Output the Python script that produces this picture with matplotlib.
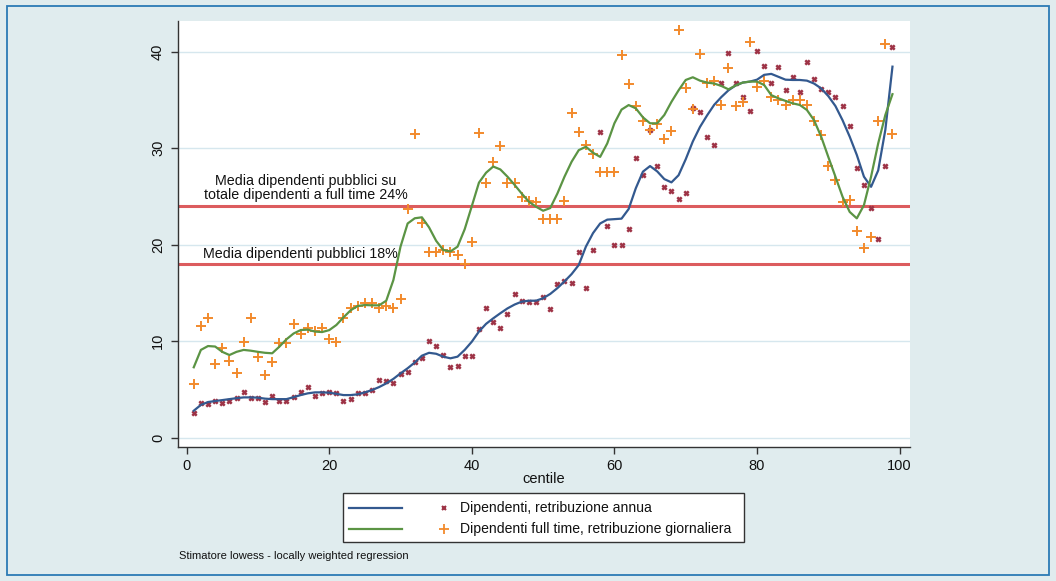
import numpy as np
import matplotlib
matplotlib.use("Agg")
import matplotlib.pyplot as plt
from matplotlib.lines import Line2D
from matplotlib.patches import Rectangle

plt.rcParams['font.family'] = ['Liberation Sans', 'DejaVu Sans']

centile = np.arange(1, 100)

annua_pts = [2.6, 3.56, 3.5, 3.8, 3.65, 3.84, 4.1, 4.7, 4.1, 4.07,
             3.73, 4.32, 3.82, 3.8, 4.25, 4.7, 5.28, 4.35, 4.67, 4.74,
             4.6, 3.84, 4.0, 4.6, 4.6, 4.98, 5.95, 5.88, 5.63, 6.6,
             6.81, 7.88, 8.26, 10.05, 9.53, 8.6, 7.29, 7.46, 8.47, 8.47,
             11.26, 13.47, 11.96, 11.33, 12.82, 14.9, 14.15, 14.1, 14.1, 14.55,
             13.34, 15.92, 16.22, 16.03, 19.2, 15.56, 19.5, 31.7, 21.92, 19.97,
             20.02, 21.58, 29.0, 27.2, 31.88, 28.2, 26.0, 25.56, 24.77, 25.36,
             34.2, 33.8, 31.2, 30.3, 36.8, 39.9, 36.8, 35.3, 33.9, 40.1,
             38.5, 36.8, 38.4, 36.0, 37.4, 35.8, 38.9, 37.2, 36.1, 35.8,
             35.3, 34.4, 32.3, 28.0, 26.2, 23.8, 20.6, 28.2, 40.5]

giorn_pts = [5.56, 11.55, 12.4, 7.64, 9.28, 7.9, 6.74, 9.9, 12.44, 8.37,
             6.5, 7.82, 9.8, 9.8, 11.76, 10.7, 11.42, 11.03, 11.4, 10.2,
             9.88, 12.37, 13.4, 13.7, 14.0, 14.0, 13.47, 13.68, 13.47, 14.4,
             23.67, 31.5, 22.28, 19.25, 19.22, 19.45, 19.25, 18.9, 18.03, 20.25,
             31.54, 26.4, 28.55, 30.25, 26.4, 26.38, 24.97, 24.5, 24.45, 22.68,
             22.68, 22.66, 24.56, 33.6, 31.7, 30.3, 29.37, 27.57, 27.57, 27.57,
             39.66, 36.7, 34.37, 32.85, 31.85, 32.5, 30.97, 31.8, 42.25, 36.2,
             34.1, 39.8, 36.8, 36.96, 34.5, 38.35, 34.4, 34.75, 41.0, 36.3,
             36.96, 35.3, 35.0, 34.45, 35.0, 35.0, 34.5, 32.8, 31.35, 28.2,
             26.7, 24.46, 24.6, 21.4, 19.7, 20.8, 32.8, 40.8, 31.47]

annua_lowess = [2.8, 3.4, 3.7, 3.8, 3.9, 4.0, 4.1, 4.18, 4.18, 4.15,
                4.05, 4.0, 4.0, 4.0, 4.2, 4.42, 4.6, 4.7, 4.7, 4.67,
                4.55, 4.42, 4.42, 4.5, 4.7, 4.94, 5.25, 5.63, 6.1, 6.67,
                7.2, 7.8, 8.5, 8.8, 8.7, 8.4, 8.23, 8.4, 9.1, 9.95,
                11.0, 11.8, 12.37, 12.9, 13.4, 13.8, 14.1, 14.2, 14.2, 14.45,
                14.9, 15.5, 16.2, 16.96, 17.9, 19.8, 21.2, 22.2, 22.6, 22.65,
                22.7, 23.7, 25.85, 27.57, 28.15, 27.6, 26.8, 26.46, 27.2, 28.85,
                30.7, 32.2, 33.4, 34.5, 35.3, 36.0, 36.5, 36.8, 36.9, 37.1,
                37.6, 37.7, 37.4, 37.1, 37.07, 37.07, 37.0, 36.7, 36.2, 35.4,
                34.37, 32.9, 31.2, 29.3, 27.05, 26.0, 27.7, 31.9, 38.45]

giorn_lowess = [7.3, 9.1, 9.5, 9.45, 8.9, 8.57, 8.9, 9.1, 9.02, 8.9,
                8.8, 8.75, 9.43, 10.2, 10.8, 11.16, 11.2, 11.0, 10.95, 11.15,
                11.68, 12.47, 13.2, 13.65, 13.75, 13.72, 13.72, 14.2, 16.34, 19.8,
                22.2, 22.74, 22.84, 21.8, 20.4, 19.45, 19.3, 19.8, 21.6, 24.0,
                26.43, 27.46, 28.1, 27.8, 27.05, 26.2, 25.3, 24.46, 23.94, 23.52,
                23.8, 25.3, 27.05, 28.6, 29.8, 30.15, 29.53, 29.1, 30.5, 32.58,
                34.0, 34.47, 34.13, 33.2, 32.58, 32.58, 33.44, 34.8, 36.0, 37.07,
                37.35, 37.0, 36.8, 36.7, 36.45, 36.1, 36.5, 36.8, 36.9, 36.9,
                36.55, 35.5, 35.17, 34.9, 34.65, 34.48, 33.96, 32.9, 31.2, 29.1,
                27.05, 24.97, 23.4, 22.73, 24.1, 27.05, 30.5, 33.44, 35.6]

media_full_time = 24
media_pubblici = 18
label_24 = "Media dipendenti pubblici su\ntotale dipendenti a full time 24%"
label_18 = "Media dipendenti pubblici 18%"
legend_labels = ["Dipendenti, retribuzione annua",
                 "Dipendenti full time, retribuzione giornaliera"]
xticks = [0, 20, 40, 60, 80, 100]
yticks = [0, 10, 20, 30, 40]

W, H = 1056, 581
BG = '#e0ecee'
C_BLUE = '#33598f'
C_GREEN = '#5b9444'
C_MAROON = '#9e3346'
C_ORANGE = '#f28a2c'
C_RED = '#dc5c5e'
TXT = '#111111'

fig = plt.figure(figsize=(W / 100, H / 100), dpi=100, facecolor=BG)
ax = fig.add_axes([177.5 / W, 1 - 447 / H, (910 - 177.5) / W, (447 - 21) / H])
ax.set_facecolor('white')

ax.set_xlim(-1.28, 101.46)
ax.set_ylim(-0.96, 43.18)

for yv in yticks:
    ax.axhline(yv, color='#d6e7ee', lw=1.0, zorder=0)

ax.scatter(centile, annua_pts, marker='x', s=10, linewidths=1.8,
           color=C_MAROON, zorder=3)
ax.scatter(centile, giorn_pts, marker='+', s=42, linewidths=1.4,
           color=C_ORANGE, zorder=3)

ax.plot(centile, annua_lowess, color=C_BLUE, lw=1.6, zorder=4)
ax.plot(centile, giorn_lowess, color=C_GREEN, lw=1.6, zorder=4)

ax.axhline(media_full_time, color=C_RED, lw=2.2, zorder=2)
ax.axhline(media_pubblici, color=C_RED, lw=2.2, zorder=2)

ax.text(16.75, 24.4, label_24, ha='center', va='bottom', fontsize=10.3,
        color=TXT, multialignment='center', linespacing=1.0, zorder=5)
ax.text(15.9, 18.35, label_18, ha='center', va='bottom', fontsize=10.3,
        color=TXT, zorder=5)

for s in ['top', 'right']:
    ax.spines[s].set_visible(False)
for s in ['left', 'bottom']:
    ax.spines[s].set_color('#333333')
    ax.spines[s].set_linewidth(1.0)

ax.set_xticks(xticks)
ax.set_yticks(yticks)
ax.tick_params(axis='both', direction='out', length=5, width=1.0,
               color='#333333', labelsize=10.5, labelcolor=TXT, pad=4)
for lab in ax.get_yticklabels():
    lab.set_rotation(90)
    lab.set_va('center')
ax.set_xlabel('centile', fontsize=10.5, color=TXT, labelpad=-1)

# legend box drawn in figure pixels
def fx(px):
    return px / W

def fy(py):
    return 1 - py / H

fig.add_artist(Rectangle((fx(343), fy(542)), fx(744) - fx(343), fy(493) - fy(542),
                         transform=fig.transFigure, facecolor='white',
                         edgecolor='#333333', lw=1.0))
rows = [508, 529]
line_cols = [C_BLUE, C_GREEN]
for i, r in enumerate(rows):
    fig.add_artist(Line2D([fx(349), fx(402)], [fy(r), fy(r)], color=line_cols[i],
                          lw=1.6, transform=fig.transFigure))
fig.add_artist(Line2D([fx(444)], [fy(rows[0])], marker='x', ms=3, mew=1.5,
                      color=C_MAROON, transform=fig.transFigure, ls='none'))
fig.add_artist(Line2D([fx(444)], [fy(rows[1])], marker='+', ms=6.5, mew=1.3,
                      color=C_ORANGE, transform=fig.transFigure, ls='none'))
for i, r in enumerate(rows):
    fig.text(fx(460), fy(r), legend_labels[i], ha='left', va='center',
             fontsize=10.1, color=TXT)

fig.text(fx(179), fy(556), "Stimatore lowess - locally weighted regression",
         ha='left', va='center', fontsize=8.0, color=TXT)

fig.add_artist(Rectangle((fx(7), fy(575)), fx(1049) - fx(7), fy(6) - fy(575),
                         transform=fig.transFigure, fill=False,
                         edgecolor='#2b7ab5', lw=1.3))

fig.savefig('out.png', dpi=100, facecolor=BG)
